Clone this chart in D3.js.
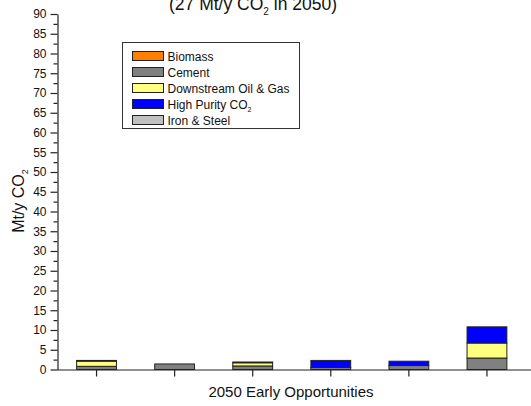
<!DOCTYPE html>
<html>
<head>
<meta charset="utf-8">
<script src="https://cdn.jsdelivr.net/npm/d3@7"></script>
<style>
  html, body { margin: 0; padding: 0; background: #fff; }
  svg { display: block; font-family: "Liberation Sans", Arial, sans-serif; }
</style>
</head>
<body>
<svg id="chart" width="531" height="406"></svg>
<script>
// Sources stacked from the bottom up, in legend order
const sectors = ["Biomass", "Cement", "Downstream Oil & Gas", "High Purity CO2", "Iron & Steel"];
const colors = ["#ff8000", "#808080", "#ffff80", "#0000ff", "#c0c0c0"];
const clusters = ["A", "B", "C", "D", "E", "F"];

// Mt/y CO2 captured per cluster, one array per source
const biomass    = [0,   0,   0,   0,   0,   0];
const cement     = [0.8, 1.4, 0.9, 0.5, 1.0, 2.9];
const downstream = [1.3, 0,   0.8, 0,   0,   3.8];
const highPurity = [0,   0,   0,   1.8, 1.1, 4.1];
const ironSteel  = [0.2, 0,   0.2, 0,   0,   0];

const yTicks = d3.range(0, 91, 5);
const yMinorTicks = d3.range(2.5, 90, 5);

const rows = clusters.map((c, i) => ({
  cluster: c,
  "Biomass": biomass[i],
  "Cement": cement[i],
  "Downstream Oil & Gas": downstream[i],
  "High Purity CO2": highPurity[i],
  "Iron & Steel": ironSteel[i]
}));

const svg = d3.select("#chart");
const plotLeft = 57.5, plotRight = 526, plotTop = 14, plotBottom = 369.5;
const ink = "#111";

const x = d3.scaleBand().domain(clusters).range([plotLeft, plotRight]).paddingInner(0.49).paddingOuter(0.245);
const y = d3.scaleLinear().domain([0, 90]).range([plotBottom, plotTop]);
const color = d3.scaleOrdinal().domain(sectors).range(colors);

const stacked = d3.stack().keys(sectors)(rows);

// Bars
svg.append("g")
  .selectAll("g")
  .data(stacked)
  .join("g")
  .attr("fill", d => color(d.key))
  .selectAll("rect")
  .data(d => d.filter(s => s[1] - s[0] > 0))
  .join("rect")
  .attr("x", d => x(d.data.cluster))
  .attr("width", x.bandwidth())
  .attr("y", d => y(d[1]))
  .attr("height", d => y(d[0]) - y(d[1]))
  .attr("stroke", "#222")
  .attr("stroke-width", 1);

// Y axis: labelled major ticks plus short minor ticks
const yAxis = svg.append("g").attr("transform", `translate(${plotLeft},0)`)
  .call(d3.axisLeft(y).tickValues(yTicks).tickSize(7).tickSizeOuter(0).tickPadding(4));
svg.append("g").attr("transform", `translate(${plotLeft},0)`)
  .call(d3.axisLeft(y).tickValues(yMinorTicks).tickSize(4).tickFormat("").tickSizeOuter(0))
  .select(".domain").remove();

// X axis: ticks under each cluster, no labels
const xAxis = svg.append("g").attr("transform", `translate(0,${plotBottom})`)
  .call(d3.axisBottom(x).tickSize(7).tickFormat("").tickSizeOuter(0));
xAxis.select(".domain").attr("d", `M${plotLeft},0.5H531`);

svg.selectAll(".domain, .tick line").attr("stroke", "#222").attr("stroke-width", 1.2);
yAxis.selectAll("text").attr("font-size", 12).attr("fill", ink)
  .attr("font-family", "Liberation Sans, Arial, sans-serif");

// Axis titles
svg.append("text")
  .attr("transform", `translate(24,201) rotate(-90)`)
  .attr("text-anchor", "middle")
  .attr("font-size", 16).attr("fill", ink)
  .call(t => {
    t.append("tspan").text("Mt/y CO");
    t.append("tspan").text("2").attr("font-size", 9).attr("dy", 4);
  });

svg.append("text")
  .attr("x", 291).attr("y", 397)
  .attr("text-anchor", "middle")
  .attr("font-size", 15).attr("fill", ink)
  .text("2050 Early Opportunities");

// Chart subtitle
svg.append("text")
  .attr("x", 253).attr("y", 10)
  .attr("text-anchor", "middle")
  .attr("font-size", 17.5).attr("fill", ink)
  .call(t => {
    t.append("tspan").text("(27 Mt/y CO");
    t.append("tspan").text("2").attr("font-size", 10).attr("dy", 5);
    t.append("tspan").text(" in 2050)").attr("dy", -5);
  });

// Legend
const legend = svg.append("g");
legend.append("rect")
  .attr("x", 122.5).attr("y", 42.5).attr("width", 177).attr("height", 86)
  .attr("fill", "#fff").attr("stroke", "#333").attr("stroke-width", 1);
const item = legend.selectAll("g.item").data(sectors).join("g").attr("class", "item")
  .attr("transform", (d, i) => `translate(132.5,${51.5 + i * 16})`);
item.append("rect")
  .attr("width", 31).attr("height", 9)
  .attr("fill", d => color(d)).attr("stroke", "#222").attr("stroke-width", 1);
item.append("text")
  .attr("x", 35).attr("y", 9)
  .attr("font-size", 12).attr("fill", ink)
  .each(function (d) {
    const t = d3.select(this);
    if (d.endsWith("CO2")) {
      t.append("tspan").text(d.slice(0, -1));
      t.append("tspan").text("2").attr("font-size", 7).attr("dy", 3);
    } else {
      t.text(d);
    }
  });
</script>
</body>
</html>
